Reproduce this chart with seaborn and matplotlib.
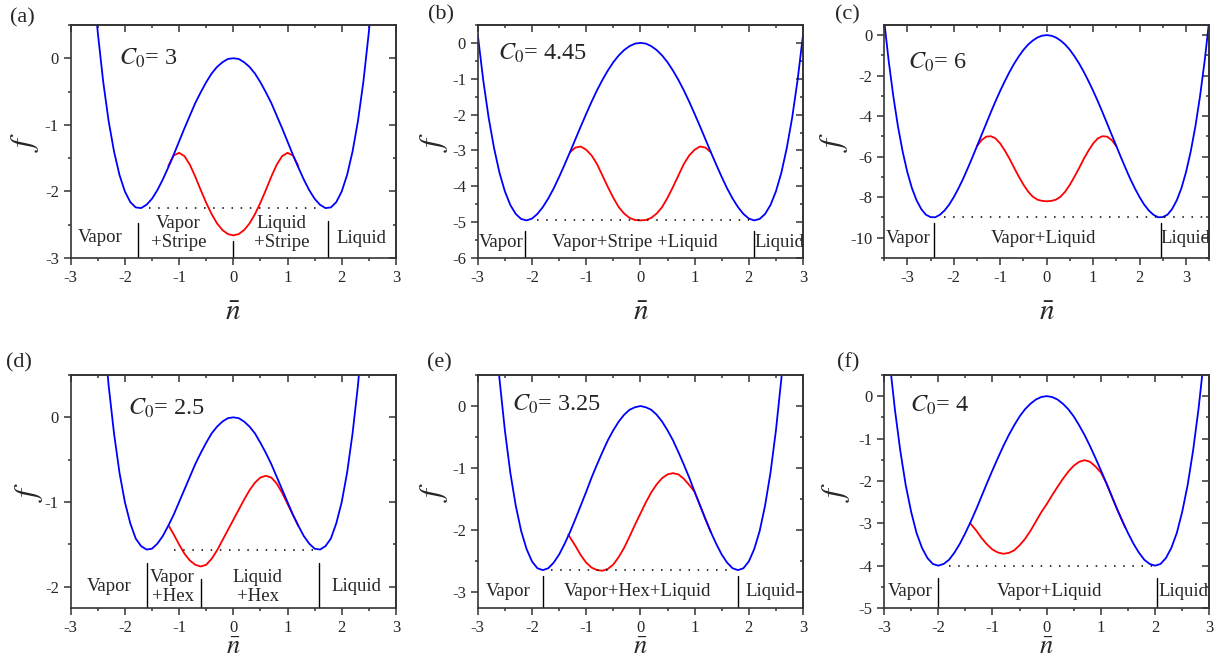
import matplotlib
matplotlib.use("Agg")
import matplotlib.pyplot as plt
from matplotlib.ticker import MultipleLocator
import seaborn as sns

sns.set_style("ticks")
plt.rcParams['font.family'] = ['Liberation Serif', 'DejaVu Serif']
plt.rcParams['mathtext.fontset'] = 'stix'
plt.rcParams['axes.unicode_minus'] = False

# density grids (step 0.1)
n_24 = [-2.4, -2.3, -2.2, -2.1, -2.0, -1.9, -1.8, -1.7, -1.6, -1.5, -1.4, -1.3, -1.2, -1.1, -1.0,
        -0.9, -0.8, -0.7, -0.6, -0.5, -0.4, -0.3, -0.2, -0.1, 0.0, 0.1, 0.2, 0.3, 0.4, 0.5, 0.6,
        0.7, 0.8, 0.9, 1.0, 1.1, 1.2, 1.3, 1.4, 1.5, 1.6, 1.7, 1.8, 1.9, 2.0, 2.1, 2.2, 2.3, 2.4]
n_26 = [-2.6, -2.5] + n_24 + [2.5, 2.6]
n_28 = [-2.8, -2.7] + n_26 + [2.7, 2.8]
n_30 = [-3.0, -2.9] + n_28 + [2.9, 3.0]
n_36 = [-3.6, -3.5, -3.4, -3.3, -3.2, -3.1] + n_30 + [3.1, 3.2, 3.3, 3.4, 3.5, 3.6]

# uniform phase (blue)
f_a_blue = [1.28, 0.39, -0.35, -0.94, -1.40, -1.75, -2.00, -2.16, -2.24, -2.25, -2.20, -2.11, -1.98,
            -1.82, -1.64, -1.45, -1.25, -1.05, -0.86, -0.67, -0.51, -0.36, -0.23, -0.13, -0.06, -0.01,
            0.0,
            -0.01, -0.06, -0.13, -0.23, -0.36, -0.51, -0.67, -0.86, -1.05, -1.25, -1.45, -1.64, -1.82,
            -1.98, -2.11, -2.20, -2.25, -2.24, -2.16, -2.00, -1.75, -1.40, -0.94, -0.35, 0.39, 1.28]
f_b_blue = [0.23, -1.03, -2.08, -2.93, -3.62, -4.14, -4.52, -4.77, -4.91, -4.95, -4.90, -4.77, -4.58,
            -4.34, -4.06, -3.74, -3.40, -3.05, -2.69, -2.33, -1.98, -1.64, -1.32, -1.03, -0.77, -0.54,
            -0.35, -0.20, -0.09, -0.02,
            0.0,
            -0.02, -0.09, -0.20, -0.35, -0.54, -0.77, -1.03, -1.32, -1.64, -1.98, -2.33, -2.69, -3.05,
            -3.40, -3.74, -4.06, -4.34, -4.58, -4.77, -4.90, -4.95, -4.91, -4.77, -4.52, -4.14, -3.62,
            -2.93, -2.08, -1.03, 0.23]
f_c_blue = [3.11, 0.77, -1.27, -3.02, -4.51, -5.74, -6.75, -7.55, -8.15, -8.58, -8.86, -8.98, -8.99,
            -8.87, -8.66, -8.37, -8.00, -7.57, -7.10, -6.58, -6.04, -5.48, -4.92, -4.36, -3.80, -3.26,
            -2.75, -2.27, -1.82, -1.41, -1.05, -0.73, -0.47, -0.27, -0.12, -0.03,
            0.0,
            -0.03, -0.12, -0.27, -0.47, -0.73, -1.05, -1.41, -1.82, -2.27, -2.75, -3.26, -3.80, -4.36,
            -4.92, -5.48, -6.04, -6.58, -7.10, -7.57, -8.00, -8.37, -8.66, -8.87, -8.99, -8.98, -8.86,
            -8.58, -8.15, -7.55, -6.75, -5.74, -4.51, -3.02, -1.27, 0.77, 3.11]
f_d_blue = [1.09, 0.38, -0.19, -0.65, -1.00, -1.25, -1.43, -1.52, -1.56, -1.55, -1.49, -1.40, -1.28,
            -1.15, -1.00, -0.85, -0.70, -0.55, -0.42, -0.30, -0.19, -0.11, -0.05, -0.01,
            0.0,
            -0.01, -0.05, -0.11, -0.19, -0.30, -0.42, -0.55, -0.70, -0.85, -1.00, -1.15, -1.28, -1.40,
            -1.49, -1.55, -1.56, -1.52, -1.43, -1.25, -1.00, -0.65, -0.19, 0.38, 1.09]
f_e_blue = [2.63, 1.44, 0.44, -0.39, -1.07, -1.60, -2.01, -2.30, -2.50, -2.61, -2.64, -2.61, -2.52,
            -2.39, -2.22, -2.03, -1.82, -1.60, -1.38, -1.15, -0.94, -0.74, -0.55, -0.39, -0.25, -0.14,
            -0.06, -0.02,
            0.0,
            -0.02, -0.06, -0.14, -0.25, -0.39, -0.55, -0.74, -0.94, -1.15, -1.38, -1.60, -1.82, -2.03,
            -2.22, -2.39, -2.52, -2.61, -2.64, -2.61, -2.50, -2.30, -2.01, -1.60, -1.07, -0.39, 0.44,
            1.44, 2.63]
f_f_blue = [2.25, 0.86, -0.31, -1.29, -2.10, -2.73, -3.23, -3.58, -3.82, -3.96, -4.00, -3.96, -3.86,
            -3.69, -3.48, -3.23, -2.96, -2.67, -2.36, -2.05, -1.75, -1.46, -1.18, -0.92, -0.69, -0.48,
            -0.31, -0.18, -0.08, -0.02,
            0.0,
            -0.02, -0.08, -0.18, -0.31, -0.48, -0.69, -0.92, -1.18, -1.46, -1.75, -2.05, -2.36, -2.67,
            -2.96, -3.23, -3.48, -3.69, -3.86, -3.96, -4.00, -3.96, -3.82, -3.58, -3.23, -2.73, -2.10,
            -1.29, -0.31, 0.86, 2.25]

# modulated phase (red): stripe in (a)-(c), hexagonal in (d)-(f)
n_a_red = [-1.2, -1.1, -1.0, -0.9, -0.8, -0.7, -0.6, -0.5, -0.4, -0.3, -0.2, -0.1, 0.0,
           0.1, 0.2, 0.3, 0.4, 0.5, 0.6, 0.7, 0.8, 0.9, 1.0, 1.1, 1.2]
f_a_red = [-1.62, -1.46, -1.42, -1.47, -1.60, -1.78, -1.98, -2.17, -2.34, -2.48, -2.58, -2.64, -2.66,
           -2.64, -2.58, -2.48, -2.34, -2.17, -1.98, -1.78, -1.60, -1.47, -1.42, -1.46, -1.62]

n_b_red = [-1.3, -1.2, -1.1, -1.0, -0.9, -0.8, -0.7, -0.6, -0.5, -0.4, -0.3, -0.2, -0.1, 0.0,
           0.1, 0.2, 0.3, 0.4, 0.5, 0.6, 0.7, 0.8, 0.9, 1.0, 1.1, 1.2, 1.3]
f_b_red = [-3.05, -2.92, -2.89, -2.98, -3.14, -3.38, -3.70, -4.02, -4.32, -4.58, -4.76, -4.88, -4.94, -4.95,
           -4.94, -4.88, -4.76, -4.58, -4.32, -4.02, -3.70, -3.38, -3.14, -2.98, -2.89, -2.92, -3.05]

n_c_red = [-1.5, -1.4, -1.3, -1.2, -1.1, -1.0, -0.9, -0.8, -0.7, -0.6, -0.5, -0.4, -0.3, -0.2, -0.1, 0.0,
           0.1, 0.2, 0.3, 0.4, 0.5, 0.6, 0.7, 0.8, 0.9, 1.0, 1.1, 1.2, 1.3, 1.4, 1.5]
f_c_red = [-5.48, -5.18, -5.01, -4.99, -5.10, -5.35, -5.70, -6.10, -6.55, -6.98, -7.38, -7.72, -7.97, -8.12, -8.18, -8.20,
           -8.18, -8.12, -7.97, -7.72, -7.38, -6.98, -6.55, -6.10, -5.70, -5.35, -5.10, -4.99, -5.01, -5.18, -5.48]

n_d_red = [-1.19, -1.1, -1.0, -0.9, -0.8, -0.7, -0.6, -0.5, -0.4, -0.3, -0.2, -0.1, 0.0,
           0.1, 0.2, 0.3, 0.4, 0.5, 0.6, 0.7, 0.8, 0.9, 1.0, 1.1, 1.2]
f_d_red = [-1.28, -1.38, -1.50, -1.61, -1.69, -1.74, -1.76, -1.74, -1.67, -1.57, -1.45, -1.33, -1.21,
           -1.09, -0.97, -0.86, -0.77, -0.71, -0.69, -0.71, -0.78, -0.89, -1.02, -1.15, -1.28]

n_e_red = [-1.33, -1.2, -1.1, -1.0, -0.9, -0.8, -0.7, -0.6, -0.5, -0.4, -0.3, -0.2, -0.1, 0.0,
           0.1, 0.2, 0.3, 0.4, 0.5, 0.6, 0.7, 0.8, 0.9, 1.0, 1.1, 1.2, 1.3]
f_e_red = [-2.07, -2.25, -2.40, -2.52, -2.60, -2.64, -2.65, -2.62, -2.55, -2.43, -2.28, -2.10, -1.91, -1.73,
           -1.55, -1.39, -1.26, -1.16, -1.10, -1.08, -1.10, -1.17, -1.27, -1.38, -1.60, -1.82, -2.03]

n_f_red = [-1.41, -1.3, -1.2, -1.1, -1.0, -0.9, -0.8, -0.7, -0.6, -0.5, -0.4, -0.3, -0.2, -0.1, 0.0,
           0.1, 0.2, 0.3, 0.4, 0.5, 0.6, 0.7, 0.8, 0.9, 1.0, 1.1, 1.2, 1.3, 1.45]
f_f_red = [-3.00, -3.17, -3.35, -3.50, -3.62, -3.69, -3.72, -3.70, -3.64, -3.52, -3.37, -3.18, -2.96, -2.74, -2.55,
           -2.34, -2.14, -1.95, -1.78, -1.64, -1.55, -1.51, -1.55, -1.66, -1.80, -2.05, -2.36, -2.67, -3.10]

panels = [
    dict(tag='(a)', c0='3', n=n_26, fb=f_a_blue, nr=n_a_red, fr=f_a_red,
         xlim=(-3, 3), ylim=(-3, 0.5), ymaj=1, ymin=0.5,
         tie=-2.25, tie_x=(-1.55, 1.52),
         seps=[(-1.75, -2.47), (0.0, -2.75), (1.75, -2.45)],
         labels=[(-2.46, -2.69, 'Vapor'), (-1.01, -2.62, 'Vapor\n+Stripe'),
                 (0.89, -2.62, 'Liquid\n+Stripe'), (2.37, -2.70, 'Liquid')],
         c0pos=(0.15, 0.855)),
    dict(tag='(b)', c0='4.45', n=n_30, fb=f_b_blue, nr=n_b_red, fr=f_b_red,
         xlim=(-3, 3), ylim=(-6, 0.5), ymaj=1, ymin=0.5,
         tie=-4.95, tie_x=(-1.9, 2.0),
         seps=[(-2.12, -5.26), (2.10, -5.26)],
         labels=[(-2.56, -5.56, 'Vapor'), (-0.1, -5.56, 'Vapor+Stripe +Liquid'),
                 (2.57, -5.56, 'Liquid')],
         c0pos=(0.062, 0.88)),
    dict(tag='(c)', c0='6', n=n_36, fb=f_c_blue, nr=n_c_red, fr=f_c_red,
         xlim=(-3.5, 3.5), ylim=(-11, 0.5), ymaj=2, ymin=1,
         tie=-9.0, tie_x=(-2.2, 3.45),
         seps=[(-2.42, -9.26), (2.46, -9.26)],
         labels=[(-2.98, -10.05, 'Vapor'), (-0.07, -10.05, 'Vapor+Liquid'),
                 (2.98, -10.05, 'Liquid')],
         c0pos=(0.075, 0.84)),
    dict(tag='(d)', c0='2.5', n=n_24, fb=f_d_blue, nr=n_d_red, fr=f_d_red,
         xlim=(-3, 3), ylim=(-2.25, 0.5), ymaj=1, ymin=0.5,
         tie=-1.56, tie_x=(-1.1, 1.5),
         seps=[(-1.59, -1.72), (-0.60, -1.91), (1.59, -1.72)],
         labels=[(-2.29, -2.0, 'Vapor'), (-1.12, -2.0, 'Vapor\n+Hex'),
                 (0.45, -2.0, 'Liquid\n+Hex'), (2.27, -2.0, 'Liquid')],
         c0pos=(0.175, 0.855)),
    dict(tag='(e)', c0='3.25', n=n_28, fb=f_e_blue, nr=n_e_red, fr=f_e_red,
         xlim=(-3, 3), ylim=(-3.25, 0.5), ymaj=1, ymin=0.5,
         tie=-2.64, tie_x=(-1.64, 1.71),
         seps=[(-1.79, -2.74), (1.80, -2.74)],
         labels=[(-2.44, -2.99, 'Vapor'), (-0.06, -2.99, 'Vapor+Hex+Liquid'),
                 (2.39, -2.99, 'Liquid')],
         c0pos=(0.106, 0.876)),
    dict(tag='(f)', c0='4', n=n_30, fb=f_f_blue, nr=n_f_red, fr=f_f_red,
         xlim=(-3, 3), ylim=(-5, 0.5), ymaj=1, ymin=0.5,
         tie=-4.0, tie_x=(-1.81, 1.97),
         seps=[(-2.0, -4.28), (2.03, -4.28)],
         labels=[(-2.52, -4.62, 'Vapor'), (0.06, -4.62, 'Vapor+Liquid'),
                 (2.53, -4.62, 'Liquid')],
         c0pos=(0.08, 0.868)),
]

fig = plt.figure(figsize=(12.16, 6.64), dpi=100)
lefts = [0.0581, 0.3929, 0.727]
bottoms = [0.6114, 0.0843]
tag_pos = [(0.008, 0.973), (0.352, 0.977), (0.687, 0.977),
           (0.005, 0.453), (0.351, 0.453), (0.688, 0.453)]
ylab_x = [-0.09, -0.085, -0.105, -0.08, -0.085, -0.1]
xlab_y = [-0.18, -0.18, -0.18, -0.125, -0.125, -0.125]
xlab_fs = [21, 21, 21, 19, 19, 19]

for i, p in enumerate(panels):
    ax = fig.add_axes([lefts[i % 3], bottoms[i // 3], 0.2675, 0.351])
    sns.lineplot(x=p['nr'], y=p['fr'], color='#ff0000', lw=1.3, sort=False, ax=ax)
    sns.lineplot(x=p['n'], y=p['fb'], color='#0000ff', lw=1.3, sort=False, ax=ax)
    ax.plot(p['tie_x'], [p['tie'], p['tie']], color='black', lw=1.1, ls=(0, (1, 5)))
    for xs, ytop in p['seps']:
        ax.plot([xs, xs], [p['ylim'][0], ytop], color='black', lw=1.0)
    for xt, yt, s in p['labels']:
        ax.text(xt, yt, s, ha='center', va='center', fontsize=13.5, linespacing=1.15)
    ax.text(p['c0pos'][0], p['c0pos'][1], r'$C_0$= ' + p['c0'], transform=ax.transAxes,
            fontsize=17.5, ha='left', va='center')
    ax.set_xlim(*p['xlim'])
    ax.set_ylim(*p['ylim'])
    ax.xaxis.set_major_locator(MultipleLocator(1))
    ax.xaxis.set_minor_locator(MultipleLocator(0.5))
    ax.yaxis.set_major_locator(MultipleLocator(p['ymaj']))
    ax.yaxis.set_minor_locator(MultipleLocator(p['ymin']))
    ax.tick_params(which='both', direction='out', labelsize=12, width=1.1, color='#333333')
    ax.tick_params(which='major', length=5)
    ax.tick_params(which='minor', length=2.5)
    # mirrored inward ticks on top and right
    sec_x = ax.secondary_xaxis('top')
    sec_x.xaxis.set_major_locator(MultipleLocator(1))
    sec_x.xaxis.set_minor_locator(MultipleLocator(0.5))
    sec_x.tick_params(which='both', direction='in', labeltop=False, width=1.1, color='#333333')
    sec_x.tick_params(which='major', length=5)
    sec_x.tick_params(which='minor', length=2.5)
    sec_y = ax.secondary_yaxis('right')
    sec_y.yaxis.set_major_locator(MultipleLocator(p['ymaj']))
    sec_y.yaxis.set_minor_locator(MultipleLocator(p['ymin']))
    sec_y.tick_params(which='both', direction='in', labelright=False, width=1.1, color='#333333')
    sec_y.tick_params(which='major', length=5)
    sec_y.tick_params(which='minor', length=2.5)
    for sp in list(ax.spines.values()) + [sec_x.spines['top'], sec_y.spines['right']]:
        sp.set_linewidth(1.2)
        sp.set_color('#333333')
    ax.set_ylabel(r'$f$', fontsize=23)
    ax.yaxis.set_label_coords(ylab_x[i], 0.5)
    ax.set_xlabel(r'$\bar{n}$', fontsize=xlab_fs[i])
    ax.xaxis.set_label_coords(0.5, xlab_y[i])
    fig.text(tag_pos[i][0], tag_pos[i][1], p['tag'], fontsize=16, ha='left', va='center')

fig.savefig('out.png', dpi=100)
